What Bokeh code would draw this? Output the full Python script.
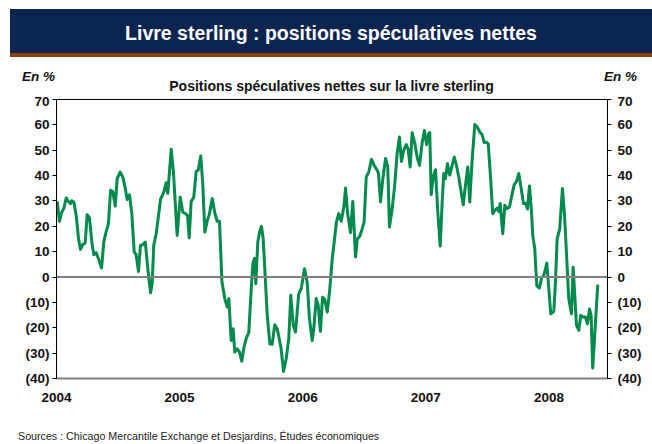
from bokeh.plotting import figure
from bokeh.models import LinearAxis, FixedTicker, Span, Div, Range1d
from bokeh.layouts import column
from bokeh.embed import file_html
from bokeh.resources import INLINE

# Decimal-year dates and net speculative positions (% of open interest)
time_years = [
    2004.006, 2004.024, 2004.043, 2004.059, 2004.079, 2004.097, 2004.114, 2004.124, 2004.141, 2004.160,
    2004.179, 2004.195, 2004.214, 2004.233, 2004.249, 2004.268, 2004.287, 2004.303, 2004.322, 2004.341,
    2004.366, 2004.384, 2004.404, 2004.422, 2004.439, 2004.457, 2004.477, 2004.493, 2004.517, 2004.539,
    2004.558, 2004.574, 2004.593, 2004.612, 2004.631, 2004.647, 2004.666, 2004.682, 2004.701, 2004.721,
    2004.742, 2004.764, 2004.777, 2004.790, 2004.810, 2004.829, 2004.845, 2004.872, 2004.891, 2004.904,
    2004.932, 2004.950, 2004.980, 2005.005, 2005.026, 2005.048, 2005.064, 2005.078, 2005.094, 2005.115,
    2005.135, 2005.151, 2005.172, 2005.188, 2005.205, 2005.224, 2005.243, 2005.265, 2005.286, 2005.305,
    2005.324, 2005.344, 2005.367, 2005.387, 2005.400, 2005.419, 2005.435, 2005.448, 2005.468, 2005.487,
    2005.505, 2005.525, 2005.543, 2005.562, 2005.582, 2005.595, 2005.608, 2005.619, 2005.635, 2005.651,
    2005.665, 2005.679, 2005.692, 2005.712, 2005.733, 2005.752, 2005.773, 2005.793, 2005.824, 2005.844,
    2005.866, 2005.887, 2005.903, 2005.923, 2005.941, 2005.968, 2005.988, 2006.015, 2006.036, 2006.055,
    2006.077, 2006.090, 2006.110, 2006.126, 2006.144, 2006.161, 2006.179, 2006.199, 2006.218, 2006.240,
    2006.256, 2006.274, 2006.293, 2006.313, 2006.334, 2006.348, 2006.364, 2006.388, 2006.407, 2006.429,
    2006.443, 2006.464, 2006.483, 2006.499, 2006.516, 2006.537, 2006.559, 2006.581, 2006.605, 2006.616,
    2006.632, 2006.651, 2006.673, 2006.691, 2006.705, 2006.727, 2006.746, 2006.767, 2006.786, 2006.802,
    2006.821, 2006.841, 2006.857, 2006.873, 2006.889, 2006.911, 2006.930, 2006.949, 2006.971, 2006.989,
    2007.006, 2007.024, 2007.032, 2007.044, 2007.060, 2007.079, 2007.097, 2007.117, 2007.133, 2007.146,
    2007.160, 2007.176, 2007.195, 2007.214, 2007.231, 2007.249, 2007.268, 2007.287, 2007.304, 2007.322,
    2007.341, 2007.357, 2007.377, 2007.398, 2007.417, 2007.439, 2007.458, 2007.474, 2007.490, 2007.507,
    2007.525, 2007.544, 2007.560, 2007.580, 2007.593, 2007.604, 2007.625, 2007.642, 2007.661, 2007.680,
    2007.702, 2007.718, 2007.737, 2007.755, 2007.775, 2007.793, 2007.812, 2007.826, 2007.842, 2007.858,
    2007.869, 2007.885, 2007.902, 2007.923, 2007.940, 2007.956, 2007.966, 2007.983, 2007.999, 2008.015,
    2008.040, 2008.053, 2008.067, 2008.088, 2008.110, 2008.127, 2008.145, 2008.161, 2008.183, 2008.197,
    2008.210, 2008.224, 2008.243, 2008.259, 2008.278, 2008.297, 2008.313, 2008.330, 2008.343, 2008.356,
    2008.378, 2008.397,
]
net_positions = [
    29.8, 22.0, 25.6, 27.0, 31.2, 29.8, 28.9, 30.1, 29.5, 24.3,
    15.1, 10.9, 12.9, 13.4, 24.6, 23.3, 13.8, 8.8, 9.6, 7.2,
    3.6, 13.8, 18.0, 21.0, 34.2, 33.8, 28.0, 38.8, 41.4, 39.4,
    35.1, 30.6, 32.4, 25.0, 9.9, 8.8, 2.2, 12.5, 12.7, 13.8,
    3.3, -6.2, -2.6, 12.5, 17.1, 24.3, 30.6, 33.5, 37.2, 33.0,
    50.4, 41.4, 16.4, 31.5, 25.6, 25.0, 24.3, 15.4, 29.8, 31.5,
    41.7, 42.1, 47.7, 36.8, 17.7, 22.0, 25.0, 31.0, 25.3, 22.0,
    22.0, -2.0, -8.5, -11.8, -8.5, -25.0, -20.4, -29.6, -28.3, -29.6,
    -33.2, -27.2, -24.0, -21.9, -4.6, 5.3, 7.3, -2.6, 13.8, 18.0,
    20.0, 15.1, 3.3, -15.1, -26.3, -26.5, -18.8, -20.4, -28.0, -37.2,
    -32.2, -24.3, -7.2, -19.0, -21.7, -6.6, -4.6, 3.3, -2.0, -16.4,
    -25.0, -20.4, -8.5, -11.2, -21.4, -8.0, -8.9, -13.8, -5.9, 7.2,
    13.8, 21.7, 25.0, 22.0, 27.6, 35.1, 25.6, 17.5, 29.8, 7.9,
    14.9, 16.2, 19.0, 21.7, 39.4, 41.4, 46.4, 44.0, 42.1, 40.8,
    29.6, 38.8, 46.7, 43.4, 19.7, 27.0, 35.5, 48.7, 55.2, 45.6,
    50.0, 52.2, 50.4, 43.4, 56.9, 52.6, 47.2, 44.0, 53.2, 57.8,
    52.2, 56.6, 57.0, 32.5, 39.4, 42.3, 25.9, 12.2, 29.6, 40.8,
    38.8, 44.7, 40.2, 44.0, 47.3, 44.0, 39.4, 33.5, 28.5, 36.1,
    43.4, 29.6, 46.7, 60.1, 59.2, 57.2, 56.1, 53.0, 53.2, 52.6,
    40.1, 25.0, 26.3, 27.2, 25.9, 29.0, 17.1, 28.3, 27.0, 27.6,
    32.9, 36.4, 37.7, 40.8, 34.9, 29.0, 29.0, 26.8, 35.9, 26.3,
    16.4, 11.2, -3.5, -4.3, -0.4, 0.4, 2.0, 5.5, -4.6, -14.5,
    -13.5, -2.0, 15.1, 19.0, 34.9, 24.3, 7.2, -8.5, -14.5, 3.9,
    -7.2, -19.0, -21.0, -15.1, -15.8, -15.8, -18.4, -12.6, -15.1, -35.9,
    -18.0, -3.0,
]

y_ticks = [-40, -30, -20, -10, 0, 10, 20, 30, 40, 50, 60, 70]
y_tick_labels = ["(40)", "(30)", "(20)", "(10)", "0", "10", "20", "30", "40", "50", "60", "70"]
year_ticks = [2004, 2005, 2006, 2007, 2008]
year_labels = ["2004", "2005", "2006", "2007", "2008"]

main_title = "Livre sterling : positions spéculatives nettes"
sub_title = "Positions spéculatives nettes sur la livre sterling"
unit_label = "En %"
source_text = "Sources : Chicago Mercantile Exchange et Desjardins, Études économiques"

FONT = "Liberation Sans"
NAVY = "#0B2450"
BROWN = "#86420A"
GREEN = "#008A4B"
INK = "#111111"

unit_style = (f'position:absolute; top:69.5px; font-weight:bold; font-style:italic; '
              f'font-size:13.5px; line-height:13.5px; color:{INK}; white-space:nowrap;')

header = Div(
    text=(
        f'<div style="position:relative; width:652px; height:93px; font-family:\'{FONT}\';">'
        f'<div style="position:absolute; left:10px; top:9px; width:642px; height:48px; background:{NAVY}; '
        f'border-bottom:4px solid {BROWN}; color:white; font-weight:bold; font-size:19.5px; '
        f'line-height:48px; text-align:center;">{main_title}</div>'
        f'<div style="{unit_style} left:22px;">{unit_label}</div>'
        f'<div style="{unit_style} left:604px;">{unit_label}</div>'
        f'<div style="position:absolute; left:56px; width:551px; top:79px; text-align:center; '
        f'font-weight:bold; font-size:14px; line-height:14px; color:{INK}; white-space:nowrap;">{sub_title}</div>'
        f'</div>'
    ),
    width=652, height=93, margin=0,
)

p = figure(
    width=652, height=335,
    output_backend="svg", toolbar_location=None,
    x_range=Range1d(2004.0, 2008.476), y_range=Range1d(-40, 70),
    min_border_left=56, min_border_right=45, min_border_top=6, min_border_bottom=50,
    background_fill_color="white", border_fill_color="white",
)
p.xgrid.visible = False
p.ygrid.visible = False
p.outline_line_color = "black"
p.outline_line_width = 1

# x axis
xa = p.xaxis[0]
xa.ticker = FixedTicker(ticks=year_ticks)
xa.major_label_overrides = {t: l for t, l in zip(year_ticks, year_labels)}
xa.major_tick_out = 0
xa.major_tick_in = 0
xa.minor_tick_out = 0
xa.minor_tick_in = 0
xa.axis_line_color = "#808080"
xa.axis_line_width = 2
xa.major_label_standoff = 14
xa.major_label_text_font = FONT
xa.major_label_text_font_size = "13.5px"
xa.major_label_text_font_style = "bold"
xa.major_label_text_color = INK


def style_y(ax, standoff):
    ax.ticker = FixedTicker(ticks=y_ticks)
    ax.major_label_overrides = {t: l for t, l in zip(y_ticks, y_tick_labels)}
    ax.major_tick_out = 4
    ax.major_tick_in = 0
    ax.minor_tick_out = 0
    ax.minor_tick_in = 0
    ax.axis_line_color = "black"
    ax.major_tick_line_color = "black"
    ax.major_label_standoff = standoff
    ax.major_label_text_font = FONT
    ax.major_label_text_font_size = "13.5px"
    ax.major_label_text_font_style = "bold"
    ax.major_label_text_color = INK


style_y(p.yaxis[0], 3)
ry = LinearAxis()
style_y(ry, 6)
p.add_layout(ry, "right")

p.add_layout(Span(location=0, dimension="width", line_color="#808080", line_width=2))

p.line(time_years, net_positions, line_color=GREEN, line_width=3, line_join="round")

source = Div(
    text=(f'<div style="font-family:\'{FONT}\'; font-size:10.7px; color:#222222; '
          f'padding-left:18px; line-height:15px; white-space:nowrap;">{source_text}</div>'),
    width=652, height=15, margin=0,
)

layout = column(header, p, source, spacing=0)
open("out.html", "w").write(file_html(layout, INLINE))
